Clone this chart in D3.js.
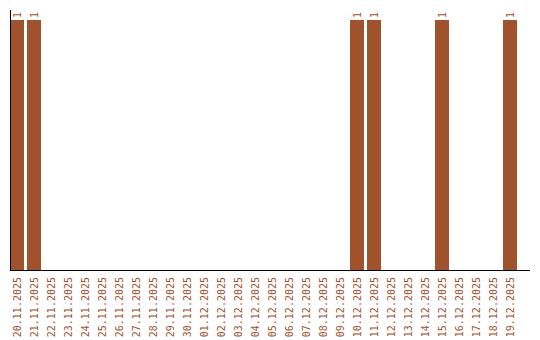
<!DOCTYPE html>
<html>
<head>
<meta charset="utf-8">
<script src="https://cdn.jsdelivr.net/npm/d3@7"></script>
<style>
  body { margin: 0; background: #fff; }
  text { font-family: "DejaVu Sans Mono", monospace; font-size: 10px; fill: #a0522d; }
</style>
</head>
<body>
<svg id="chart" width="540" height="340"></svg>
<script>
const dates = [
  "20.11.2025", "21.11.2025", "22.11.2025", "23.11.2025", "24.11.2025",
  "25.11.2025", "26.11.2025", "27.11.2025", "28.11.2025", "29.11.2025",
  "30.11.2025", "01.12.2025", "02.12.2025", "03.12.2025", "04.12.2025",
  "05.12.2025", "06.12.2025", "07.12.2025", "08.12.2025", "09.12.2025",
  "10.12.2025", "11.12.2025", "12.12.2025", "13.12.2025", "14.12.2025",
  "15.12.2025", "16.12.2025", "17.12.2025", "18.12.2025", "19.12.2025"
];
const counts = [
  1, 1, 0, 0, 0, 0, 0, 0, 0, 0,
  0, 0, 0, 0, 0, 0, 0, 0, 0, 0,
  1, 1, 0, 0, 0, 1, 0, 0, 0, 1
];

const barColor = "#a0522d";
const svg = d3.select("#chart");

const mLeft = 10, mTop = 10, mBottom = 270, mRight = 530;

const xScale = d3.scaleBand()
  .domain(dates)
  .range([mLeft, mLeft + dates.length * 17])
  .paddingInner(3 / 17)
  .paddingOuter(1.5 / 17)
  .align(0);

// top of bars sits a little under the top of the y axis
const yScale = d3.scaleLinear().domain([0, d3.max(counts) * 1.04]).range([mBottom, mTop]);

const data = dates.map((d, i) => ({ date: d, value: counts[i] }));

svg.append("g")
  .selectAll("rect")
  .data(data)
  .join("rect")
  .attr("x", d => xScale(d.date))
  .attr("y", d => yScale(d.value))
  .attr("width", xScale.bandwidth())
  .attr("height", d => mBottom - yScale(d.value))
  .attr("fill", barColor);

// value labels
svg.append("g")
  .selectAll("text")
  .data(data.filter(d => d.value > 0))
  .join("text")
  .attr("transform", d => `translate(${xScale(d.date) + xScale.bandwidth() / 2},${yScale(d.value) - 2}) rotate(-90)`)
  .attr("dy", "0.35em")
  .attr("text-anchor", "start")
  .text(d => d.value);

// x axis
const xAxis = svg.append("g")
  .attr("transform", `translate(0,${mBottom})`)
  .call(d3.axisBottom(xScale).tickSize(0).tickSizeOuter(0));
xAxis.select(".domain").remove();
xAxis.selectAll(".tick text")
  .attr("y", 0)
  .attr("x", 0)
  .attr("dy", "0.35em")
  .attr("text-anchor", "end")
  .attr("transform", "translate(0,7) rotate(-90)")
  .style("fill", barColor)
  .style("font-family", "'DejaVu Sans Mono', monospace")
  .style("font-size", "10px");

svg.append("line")
  .attr("x1", mLeft).attr("x2", mRight)
  .attr("y1", mBottom + 0.5).attr("y2", mBottom + 0.5)
  .attr("stroke", "#000");

// y axis line, no ticks
svg.append("line")
  .attr("x1", mLeft + 0.5).attr("x2", mLeft + 0.5)
  .attr("y1", mTop).attr("y2", mBottom)
  .attr("stroke", "#000");
</script>
</body>
</html>
